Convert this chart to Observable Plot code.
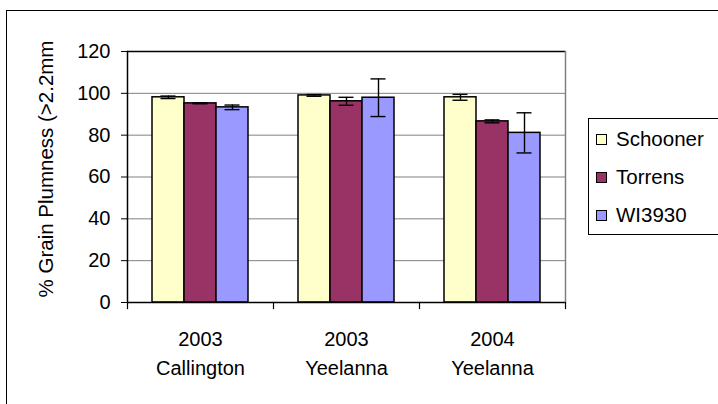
<!DOCTYPE html>
<html>
<head>
<meta charset="utf-8">
<script src="https://cdn.jsdelivr.net/npm/d3@7"></script>
<script src="https://cdn.jsdelivr.net/npm/@observablehq/plot@0.6"></script>
<style>
  html, body { margin: 0; padding: 0; background: #fff; width: 718px; height: 404px; overflow: hidden; }
  body { position: relative; font-family: "Liberation Sans", Arial, sans-serif; }
  #border { position: absolute; left: 6px; top: 10px; width: 900px; height: 600px; border: 1px solid #000; box-sizing: border-box; z-index: 5; pointer-events: none; }
  #chart { position: absolute; left: 0; top: 0; z-index: 1; }
  #legend { position: absolute; left: 588px; top: 118px; width: 200px; height: 117px; border: 1px solid #000; box-sizing: border-box; background: #fff; z-index: 3; }
  .item { position: absolute; left: 7px; height: 24px; display: flex; align-items: center; font-size: 20.5px; color: #000; }
  .sw { width: 9px; height: 9px; border: 1px solid #000; margin-right: 9px; }
</style>
</head>
<body>
<div id="chart"></div>
<div id="legend"></div>
<div id="border"></div>
<script>
const sites = ["2003\nCallington", "2003\nYeelanna", "2004\nYeelanna"];
const varieties = ["Schooner", "Torrens", "WI3930"];
const colors = ["#FFFFCC", "#993366", "#9999FF"];
const schooner = [98.1, 99.0, 98.1];
const schoonerErr = [0.6, 0.4, 1.4];
const torrens = [95.2, 96.2, 86.6];
const torrensErr = [0.2, 1.9, 0.7];
const wi3930 = [93.3, 97.9, 81.1];
const wi3930Err = [1.1, 9.0, 9.6];
const yTicks = [0, 20, 40, 60, 80, 100, 120];
const yLabel = "% Grain Plumness (>2.2mm";

const series = [[schooner, schoonerErr], [torrens, torrensErr], [wi3930, wi3930Err]];
const rows = [];
sites.forEach((s, i) => varieties.forEach((v, j) => {
  const val = series[j][0][i], err = series[j][1][i];
  rows.push({site: s, variety: v, value: val, lo: val - err, hi: val + err});
}));

const chart = Plot.plot({
  width: 718, height: 404,
  marginLeft: 126, marginRight: 152, marginTop: 51, marginBottom: 102,
  style: {fontFamily: "'Liberation Sans', Arial, sans-serif", fontSize: "20px", color: "#000", background: "transparent"},
  fx: {domain: sites, paddingInner: 0, paddingOuter: 0, label: null},
  x: {domain: varieties, paddingInner: 0, paddingOuter: 0.745, axis: null},
  y: {domain: [0, 120]},
  color: {domain: varieties, range: colors},
  marks: [
    Plot.gridY(yTicks.filter(t => t > 0 && t < 120), {stroke: "#808080", strokeOpacity: 1, strokeWidth: 1}),
    Plot.barY(rows, {fx: "site", x: "variety", y: "value", fill: "variety", stroke: "#000", strokeWidth: 1.5}),
    Plot.ruleX(rows, {fx: "site", x: "variety", y1: "lo", y2: "hi", stroke: "#000", strokeWidth: 1.4}),
    Plot.tickY(rows, {fx: "site", x: "variety", y: "lo", insetLeft: 8.5, insetRight: 8.5, stroke: "#000", strokeWidth: 1.4}),
    Plot.tickY(rows, {fx: "site", x: "variety", y: "hi", insetLeft: 8.5, insetRight: 8.5, stroke: "#000", strokeWidth: 1.4}),
    Plot.ruleY([120], {stroke: "#000", strokeWidth: 1.5}),
    Plot.ruleY([0], {stroke: "#000", strokeWidth: 1.5}),
    Plot.frame({facet: "super", anchor: "left", stroke: "#000", strokeWidth: 1.5}),
    Plot.frame({facet: "super", anchor: "right", stroke: "#808080", strokeWidth: 1.5}),
    Plot.frame({anchor: "left", insetTop: 251, insetBottom: -6, stroke: "#000", strokeWidth: 1.2}),
    Plot.frame({facet: "super", anchor: "right", insetTop: 251, insetBottom: -6, stroke: "#000", strokeWidth: 1.2}),
    Plot.axisY({ticks: yTicks, tickSize: 6, tickPadding: 11, fontSize: 20, label: null}),
    Plot.text([yLabel], {facet: "super", frameAnchor: "left", rotate: -90, dx: -81, dy: -8, fontSize: 20.5, textAnchor: "middle", fill: "#000"}),
    Plot.axisFx({anchor: "bottom", tickSize: 0, tickPadding: 23, lineHeight: 1.45, fontSize: 20, label: null})
  ]
});
document.getElementById("chart").appendChild(chart);

const legend = document.getElementById("legend");
const centers = [20, 58, 96];
varieties.forEach((v, i) => {
  const it = document.createElement("div");
  it.className = "item";
  it.style.top = (centers[i] - 12) + "px";
  const sw = document.createElement("div");
  sw.className = "sw";
  sw.style.background = colors[i];
  const t = document.createElement("span");
  t.textContent = v;
  it.appendChild(sw); it.appendChild(t);
  legend.appendChild(it);
});
</script>
</body>
</html>
